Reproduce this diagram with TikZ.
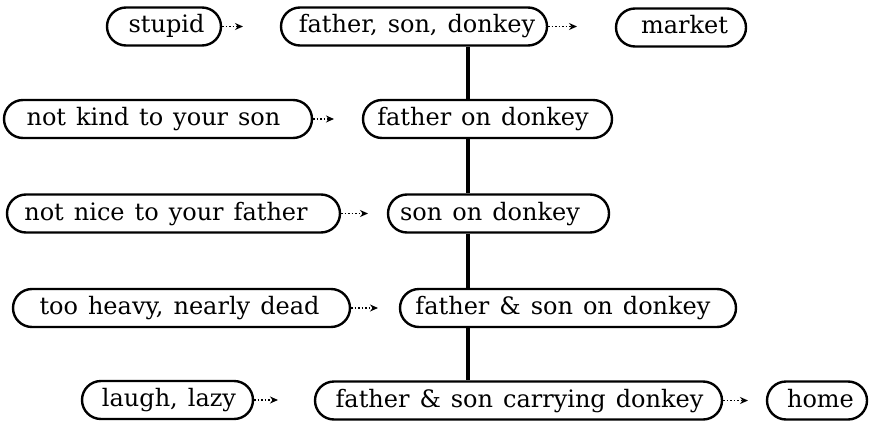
\documentclass[tikz,border=0pt]{standalone}
\usepackage{fontspec}
\setmainfont{DejaVu Serif}
\usetikzlibrary{arrows.meta}
\newcommand{\bxt}[3]{\makebox[#1pt]{\hspace*{#2pt}\fontsize{24}{28}\selectfont\spaceskip=10pt plus 2pt minus 1pt\relax #3}}
\begin{document}
\begin{tikzpicture}[x=1pt,y=-1pt,
  box/.style={draw, line width=2.4pt, rounded corners=19pt, inner xsep=0pt, inner ysep=0pt,
    minimum height=38pt, text height=18pt, text depth=5pt},
  arr/.style={line width=1.3pt, dash pattern=on 1.6pt off 1.9pt, -{Stealth[length=8pt,width=7pt]}},
  spine/.style={line width=4.5pt}]
\useasboundingbox (0,0) rectangle (869,420);
% row 1
\node[box] (stupid) at (164,26.5) {\bxt{114}{5}{stupid}};
\node[box] (fsd) at (414,26.5) {\bxt{266}{6}{father, son, donkey}};
\node[box] (market) at (681,27.5) {\bxt{130}{7}{market}};
% row 2
\node[box] (notkind) at (158,119) {\bxt{308}{-9}{not kind to your son}};
\node[box] (fod) at (487.5,119) {\bxt{249}{-9}{father on donkey}};
% row 3
\node[box] (notnice) at (173.5,213.5) {\bxt{333}{-15}{not nice to your father}};
\node[box] (sod) at (498.5,213.5) {\bxt{221}{-17}{son on donkey}};
% row 4
\node[box] (heavy) at (181.5,308) {\bxt{337}{-4}{too heavy, nearly dead}};
\node[box] (fsod) at (568,308) {\bxt{336}{-10}{father \& son on donkey}};
% row 5
\node[box] (laugh) at (167.5,400) {\bxt{171}{3}{laugh, lazy}};
\node[box] (carry) at (518.5,400.5) {\bxt{407}{2}{father \& son carrying donkey}};
\node[box] (home) at (817,400.5) {\bxt{100}{7}{home}};
% arrow tips
\coordinate (t1) at (243,26.5);
\coordinate (t2) at (577,26.5);
\coordinate (t3) at (334,119);
\coordinate (t4) at (368,213.5);
\coordinate (t5) at (378,308);
\coordinate (t6) at (278,400);
\coordinate (t7) at (748,400.5);
\draw[arr] (stupid.east) -- (t1);
\draw[arr] (fsd.east) -- (t2);
\draw[arr] (notkind.east) -- (t3);
\draw[arr] (notnice.east) -- (t4);
\draw[arr] (heavy.east) -- (t5);
\draw[arr] (laugh.east) -- (t6);
\draw[arr] (carry.east) -- (t7);
% spine
\coordinate (sp) at (468,0);
\draw[spine] (fsd.south -| sp) -- (fod.north -| sp);
\draw[spine] (fod.south -| sp) -- (sod.north -| sp);
\draw[spine] (sod.south -| sp) -- (fsod.north -| sp);
\draw[spine] (fsod.south -| sp) -- (carry.north -| sp);
\end{tikzpicture}
\end{document}
